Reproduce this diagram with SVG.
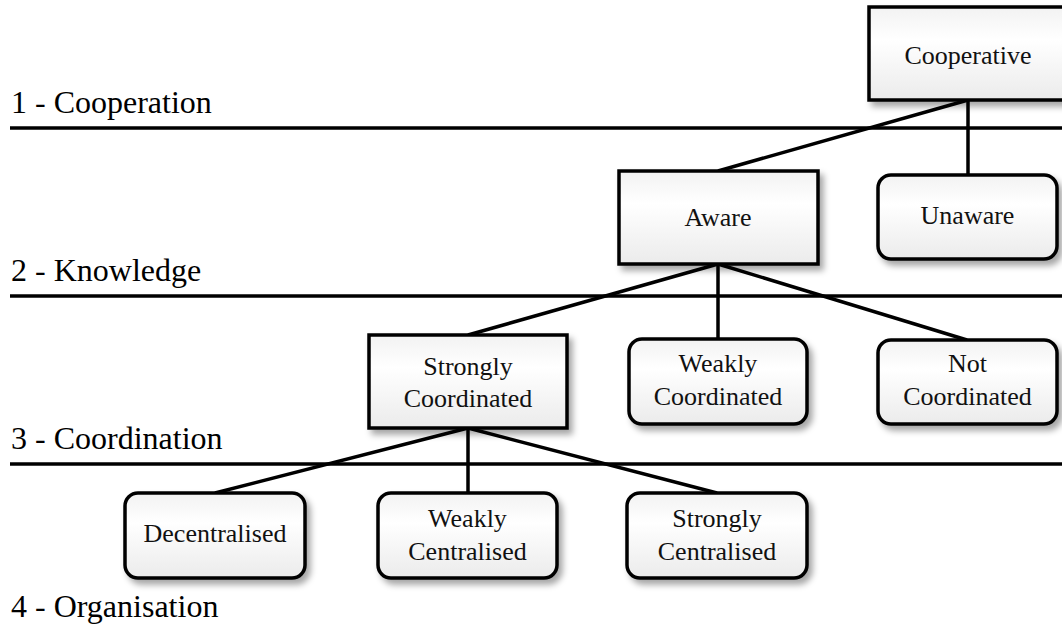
<svg xmlns="http://www.w3.org/2000/svg" width="1062" height="630" viewBox="0 0 1062 630">
<defs>
<linearGradient id="fillg" x1="0" y1="0" x2="0" y2="1">
<stop offset="0" stop-color="#f2f2f2"/>
<stop offset="0.35" stop-color="#ffffff"/>
<stop offset="1" stop-color="#ebebeb"/>
</linearGradient>
<filter id="shadow" x="-10%" y="-10%" width="130%" height="140%">
<feDropShadow dx="4" dy="5" stdDeviation="3" flood-color="#000" flood-opacity="0.35"/>
</filter>
</defs>
<style>
.box{fill:url(#fillg);stroke:#000;stroke-width:3.5;filter:url(#shadow)}
.lbl{font-family:"Liberation Serif","Times New Roman",serif;font-size:26px;fill:#111;text-anchor:middle}
.layer{font-family:"Liberation Serif","Times New Roman",serif;font-size:32px;fill:#000}
.sep{stroke:#000;stroke-width:3.5}
.conn{stroke:#000;stroke-width:3.5;fill:none}
</style>
<rect width="1062" height="630" fill="#fff"/>
<g id="layers">
<line class="sep" x1="10" y1="128" x2="1062" y2="128"/>
<line class="sep" x1="10" y1="296" x2="1062" y2="296"/>
<line class="sep" x1="10" y1="464" x2="1062" y2="464"/>
<text class="layer" x="11" y="113">1 - Cooperation</text>
<text class="layer" x="11" y="281">2 - Knowledge</text>
<text class="layer" x="11" y="449">3 - Coordination</text>
<text class="layer" x="11" y="617">4 - Organisation</text>
</g>
<g id="connectors">
<line class="conn" x1="968" y1="100" x2="718" y2="171"/>
<line class="conn" x1="968" y1="100" x2="968" y2="175"/>
<line class="conn" x1="718" y1="264" x2="468" y2="335"/>
<line class="conn" x1="718" y1="264" x2="718" y2="339"/>
<line class="conn" x1="718" y1="264" x2="967" y2="340"/>
<line class="conn" x1="468" y1="428" x2="215" y2="493"/>
<line class="conn" x1="468" y1="428" x2="468" y2="493"/>
<line class="conn" x1="468" y1="428" x2="717" y2="493"/>
</g>
<g id="cooperative">
<rect class="box" x="869" y="7" width="199" height="93"/>
<text class="lbl" x="968" y="64">Cooperative</text>
</g>
<g id="aware">
<rect class="box" x="619" y="171" width="199" height="93"/>
<text class="lbl" x="718" y="226">Aware</text>
</g>
<g id="unaware">
<rect class="box" x="878" y="175" width="179" height="84" rx="13"/>
<text class="lbl" x="967.5" y="224">Unaware</text>
</g>
<g id="strongly-coordinated">
<rect class="box" x="369" y="335" width="198" height="93"/>
<text class="lbl" x="468" y="375">Strongly</text>
<text class="lbl" x="468" y="407">Coordinated</text>
</g>
<g id="weakly-coordinated">
<rect class="box" x="629" y="339" width="178" height="85" rx="13"/>
<text class="lbl" x="718" y="372">Weakly</text>
<text class="lbl" x="718" y="405">Coordinated</text>
</g>
<g id="not-coordinated">
<rect class="box" x="878" y="340" width="179" height="84" rx="13"/>
<text class="lbl" x="967.5" y="372">Not</text>
<text class="lbl" x="967.5" y="405">Coordinated</text>
</g>
<g id="decentralised">
<rect class="box" x="125" y="493" width="180" height="85" rx="13"/>
<text class="lbl" x="215" y="542">Decentralised</text>
</g>
<g id="weakly-centralised">
<rect class="box" x="378" y="493" width="179" height="85" rx="13"/>
<text class="lbl" x="467.5" y="527">Weakly</text>
<text class="lbl" x="467.5" y="560">Centralised</text>
</g>
<g id="strongly-centralised">
<rect class="box" x="627" y="493" width="180" height="85" rx="13"/>
<text class="lbl" x="717" y="527">Strongly</text>
<text class="lbl" x="717" y="560">Centralised</text>
</g>
</svg>
